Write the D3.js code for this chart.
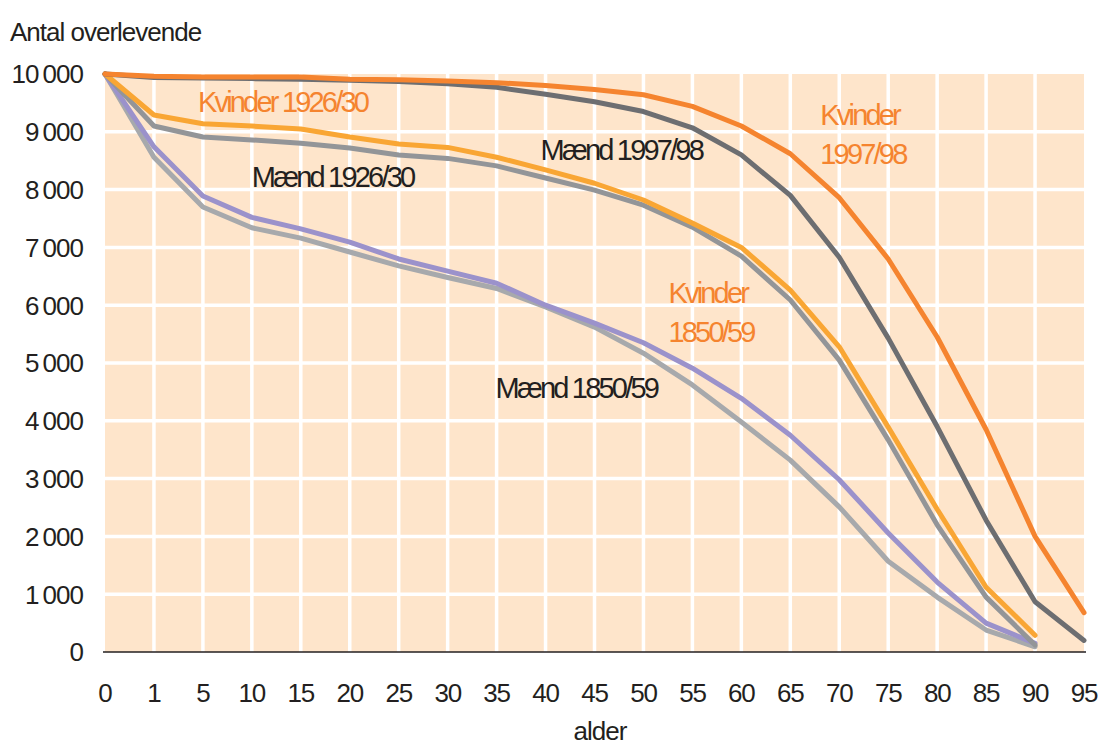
<!DOCTYPE html>
<html>
<head>
<meta charset="utf-8">
<script src="https://cdn.jsdelivr.net/npm/d3@7"></script>
<style>
  body { margin: 0; background: #fff; }
  text { font-family: "Liberation Sans", Arial, sans-serif; }
</style>
</head>
<body>
<div id="chart"></div>
<script>
// ages on the x axis (evenly spaced categories)
var ages = [0, 1, 5, 10, 15, 20, 25, 30, 35, 40, 45, 50, 55, 60, 65, 70, 75, 80, 85, 90, 95];
var yTicks = [0, 1000, 2000, 3000, 4000, 5000, 6000, 7000, 8000, 9000, 10000];

// survivors out of 10 000
var maend1850 = [10000, 8560, 7700, 7340, 7160, 6920, 6680, 6480, 6290, 5970, 5620, 5170, 4620, 3980, 3320, 2510, 1570, 950, 380, 90];
var kvinder1850 = [10000, 8740, 7890, 7520, 7320, 7090, 6800, 6590, 6380, 6000, 5690, 5350, 4910, 4390, 3750, 2980, 2060, 1210, 500, 150];
var maend1926 = [10000, 9100, 8910, 8860, 8800, 8720, 8600, 8540, 8410, 8200, 7990, 7730, 7350, 6850, 6090, 5050, 3670, 2200, 950, 120];
var kvinder1926 = [10000, 9290, 9140, 9100, 9050, 8910, 8790, 8730, 8560, 8340, 8110, 7820, 7420, 7000, 6260, 5280, 3890, 2470, 1120, 290];
var maend1997 = [10000, 9940, 9930, 9920, 9910, 9890, 9870, 9830, 9770, 9650, 9520, 9350, 9070, 8600, 7900, 6830, 5430, 3900, 2280, 870, 200];
var kvinder1997 = [10000, 9960, 9950, 9950, 9950, 9910, 9900, 9880, 9850, 9800, 9730, 9640, 9440, 9100, 8620, 7860, 6800, 5450, 3850, 2000, 680];

var series = [
  {name: "Mænd 1850/59", values: maend1850, color: "#a7a9ac"},
  {name: "Kvinder 1850/59", values: kvinder1850, color: "#9b92cb"},
  {name: "Mænd 1926/30", values: maend1926, color: "#939598"},
  {name: "Kvinder 1926/30", values: kvinder1926, color: "#f9a634"},
  {name: "Mænd 1997/98", values: maend1997, color: "#6d6e71"},
  {name: "Kvinder 1997/98", values: kvinder1997, color: "#f5842f"}
];

// labels inside the plot (age + small nudge in px)
var labels = [
  {lines: ["Kvinder 1926/30"], age: 5, dx: -5, value: 9350, color: "#f5842f"},
  {lines: ["Mænd 1926/30"], age: 10, dx: 0, value: 8040, color: "#231f20"},
  {lines: ["Mænd 1997/98"], age: 40, dx: -5, value: 8520, color: "#231f20"},
  {lines: ["Kvinder", "1997/98"], age: 70, dx: -19, value: 9120, color: "#f5842f"},
  {lines: ["Kvinder", "1850/59"], age: 55, dx: -24, value: 6040, color: "#f5842f"},
  {lines: ["Mænd 1850/59"], age: 35, dx: -1, value: 4400, color: "#231f20"}
];

var width = 1105,
    height = 745,
    plotLeft = 105,
    plotRight = 1084,
    plotTop = 74,
    plotBottom = 652;

var svg = d3.select("#chart").append("svg")
  .attr("width", width)
  .attr("height", height);

var x = d3.scalePoint()
  .domain(ages)
  .range([plotLeft, plotRight]);

var y = d3.scaleLinear()
  .domain([0, 10000])
  .range([plotBottom, plotTop]);

// peach plot background
svg.append("rect")
  .attr("x", plotLeft)
  .attr("y", plotTop)
  .attr("width", plotRight - plotLeft)
  .attr("height", plotBottom - plotTop)
  .style("fill", "#fee5cb");

// white grid
svg.selectAll(".vgrid")
  .data(ages.slice(1, ages.length - 1))
  .enter().append("line")
  .attr("x1", function(d) { return x(d); })
  .attr("x2", function(d) { return x(d); })
  .attr("y1", plotTop)
  .attr("y2", plotBottom)
  .style("stroke", "#fff")
  .style("stroke-width", 3.5);

svg.selectAll(".hgrid")
  .data(yTicks.slice(1, yTicks.length - 1))
  .enter().append("line")
  .attr("x1", plotLeft)
  .attr("x2", plotRight)
  .attr("y1", function(d) { return y(d); })
  .attr("y2", function(d) { return y(d); })
  .style("stroke", "#fff")
  .style("stroke-width", 3.5);

// y axis labels
var fmt = function(d) {
  return d >= 1000 ? Math.floor(d / 1000) + "\u2009" + "000" : "" + d;
};
svg.selectAll(".ylab")
  .data(yTicks)
  .enter().append("text")
  .attr("x", 83)
  .attr("y", function(d) { return y(d); })
  .attr("dy", "0.36em")
  .style("text-anchor", "end")
  .style("font-size", "26px")
  .style("letter-spacing", "-1px")
  .style("fill", "#231f20")
  .text(fmt);

// x axis labels
svg.selectAll(".xlab")
  .data(ages)
  .enter().append("text")
  .attr("x", function(d) { return x(d); })
  .attr("y", 702)
  .style("text-anchor", "middle")
  .style("font-size", "26px")
  .style("letter-spacing", "-1.2px")
  .style("fill", "#231f20")
  .text(function(d) { return d; });

// bottom axis line
svg.append("line")
  .attr("x1", plotLeft - 2)
  .attr("x2", plotRight + 2)
  .attr("y1", plotBottom)
  .attr("y2", plotBottom)
  .style("stroke", "#231f20")
  .style("stroke-width", 1.5);

svg.append("text")
  .attr("x", 10)
  .attr("y", 41)
  .style("font-size", "26px")
  .style("letter-spacing", "-1px")
  .style("fill", "#231f20")
  .text("Antal overlevende");

svg.append("text")
  .attr("x", 600)
  .attr("y", 740)
  .style("text-anchor", "middle")
  .style("font-size", "26px")
  .style("letter-spacing", "-1px")
  .style("fill", "#231f20")
  .text("alder");

// survival lines
var line = d3.line()
  .x(function(d, i) { return x(ages[i]); })
  .y(function(d) { return y(d); });

svg.selectAll(".serie")
  .data(series)
  .enter().append("path")
  .attr("d", function(d) { return line(d.values); })
  .style("fill", "none")
  .style("stroke", function(d) { return d.color; })
  .style("stroke-width", 5)
  .style("stroke-linejoin", "round")
  .style("stroke-linecap", "round");

// text labels
var lab = svg.selectAll(".lab")
  .data(labels)
  .enter().append("text")
  .attr("x", function(d) { return x(d.age) + d.dx; })
  .attr("y", function(d) { return y(d.value); })
  .style("font-size", "29px")
  .style("letter-spacing", "-2.8px")
  .style("fill", function(d) { return d.color; });

lab.selectAll("tspan")
  .data(function(d) { return d.lines.map(function(t) { return {t: t, xx: x(d.age) + d.dx}; }); })
  .enter().append("tspan")
  .attr("x", function(d) { return d.xx; })
  .attr("dy", function(d, i) { return i == 0 ? 0 : 39; })
  .text(function(d) { return d.t; });
</script>
</body>
</html>
